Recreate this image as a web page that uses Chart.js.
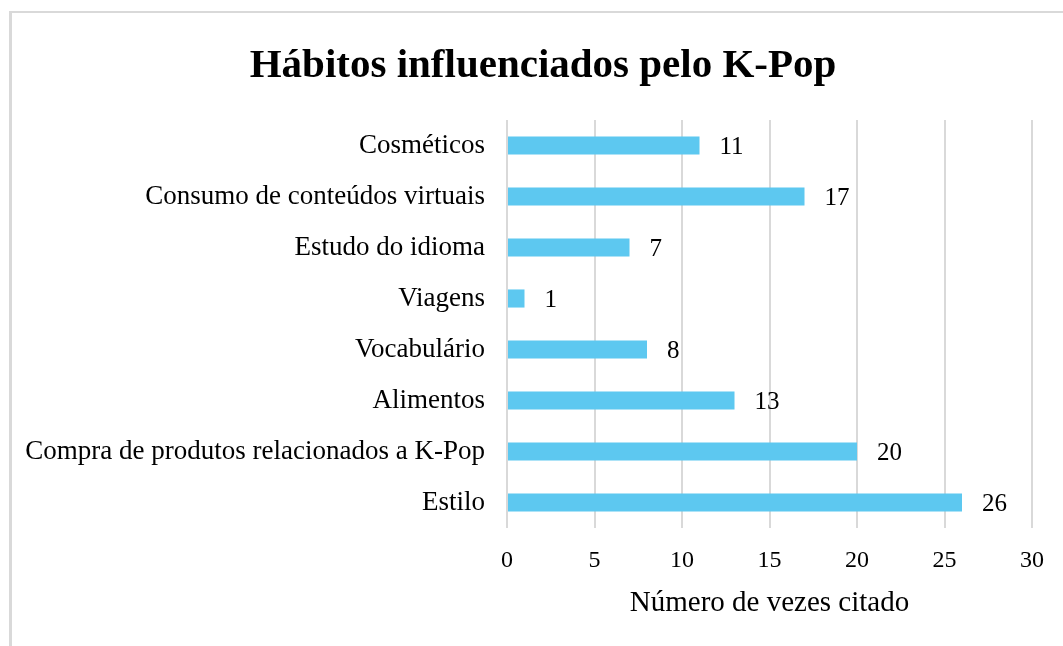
<!DOCTYPE html>
<html>
<head>
<meta charset="utf-8">
<script src="https://cdn.jsdelivr.net/npm/chart.js@4/dist/chart.umd.min.js"></script>
<style>
  html, body { margin: 0; padding: 0; background: #fff; overflow: hidden; }
  #wrap { position: relative; width: 1063px; height: 646px; }
  #frame { position: absolute; left: 9px; top: 11px; width: 1200px; height: 800px;
           border-left: 3px solid #d9d9d9; border-top: 2px solid #d9d9d9; box-sizing: border-box; }
  #c { position: absolute; left: 0; top: 0; }
</style>
</head>
<body>
<div id="wrap">
  <div id="frame"></div>
  <canvas id="c" width="1063" height="646"></canvas>
</div>
<script>
const chartTitle = "Hábitos influenciados pelo K-Pop";
const axisTitle = "Número de vezes citado";
const categories = [
  "Cosméticos",
  "Consumo de conteúdos virtuais",
  "Estudo do idioma",
  "Viagens",
  "Vocabulário",
  "Alimentos",
  "Compra de produtos relacionados a K-Pop",
  "Estilo"
];
const values = [11, 17, 7, 1, 8, 13, 20, 26];
const xTickValues = [0, 5, 10, 15, 20, 25, 30];

const SERIF = '"Liberation Serif", "Times New Roman", serif';

const titlePlugin = {
  id: 'customTitle',
  afterDraw(chart) {
    const ctx = chart.ctx;
    ctx.save();
    ctx.font = 'bold 41px ' + SERIF;
    ctx.fillStyle = '#000';
    ctx.textAlign = 'center';
    ctx.textBaseline = 'alphabetic';
    ctx.fillText(chartTitle, 543, 77);
    ctx.restore();
  }
};

const valueLabels = {
  id: 'valueLabels',
  afterDatasetsDraw(chart) {
    const ctx = chart.ctx;
    const meta = chart.getDatasetMeta(0);
    ctx.save();
    ctx.font = '25px ' + SERIF;
    ctx.fillStyle = '#000';
    ctx.textAlign = 'left';
    ctx.textBaseline = 'middle';
    meta.data.forEach((el, i) => {
      ctx.fillText(String(values[i]), el.x + 20, el.y + 2);
    });
    ctx.restore();
  }
};

new Chart(document.getElementById('c'), {
  type: 'bar',
  data: {
    labels: categories,
    datasets: [{
      data: values,
      backgroundColor: '#5DC8F0',
      borderWidth: 0,
      categoryPercentage: 1,
      barPercentage: 0.355
    }]
  },
  options: {
    indexAxis: 'y',
    responsive: false,
    animation: false,
    events: [],
    layout: { padding: { top: 120, right: 31, bottom: 25, left: 0 } },
    plugins: { legend: { display: false }, tooltip: { enabled: false }, title: { display: false } },
    scales: {
      x: {
        min: 0, max: 30,
        afterBuildTicks(scale) { scale.ticks = xTickValues.map(v => ({ value: v })); },
        grid: { color: '#d9d9d9', lineWidth: 2, drawTicks: false },
        border: { display: false },
        ticks: { font: { family: SERIF, size: 24 }, color: '#000', padding: 18, maxRotation: 0 },
        title: { display: true, text: axisTitle, font: { family: SERIF, size: 29 }, color: '#000', padding: { top: 0, bottom: 0 } },
        afterFit(scale) { scale.height = 93; }
      },
      y: {
        grid: { display: false, drawTicks: false },
        border: { display: false },
        ticks: { font: { family: SERIF, size: 27 }, color: '#000', padding: 22 },
        afterFit(scale) { scale.width = 507; }
      }
    }
  },
  plugins: [titlePlugin, valueLabels]
});
</script>
</body>
</html>
